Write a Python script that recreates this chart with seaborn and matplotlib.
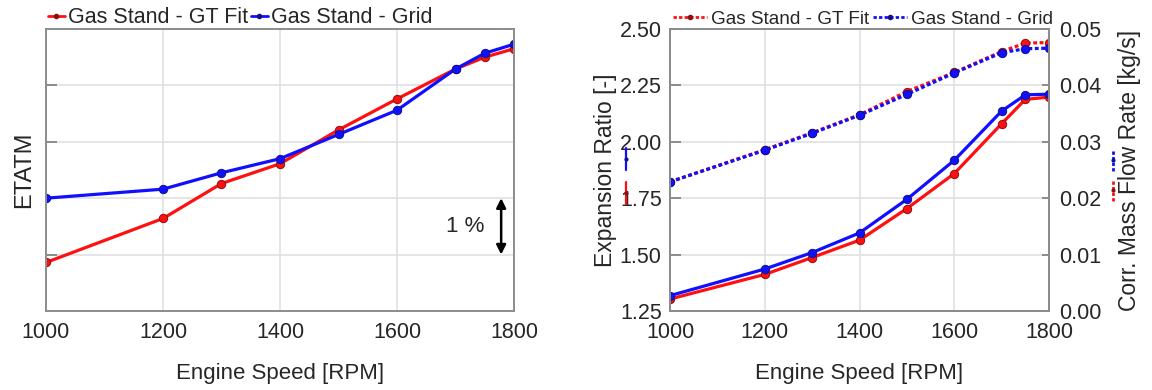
#set up modules
import numpy as np
import matplotlib
matplotlib.use("Agg")
import matplotlib.pyplot as plt
from matplotlib.lines import Line2D
import seaborn as sns

#data
rpm = [1000, 1200, 1300, 1400, 1500, 1600, 1700, 1750, 1800]

#left panel: turbine efficiency (relative, 1 grid step = 1 %)
etatm_fit = [60.86, 61.64, 62.26, 62.61, 63.21, 63.76, 64.29, 64.50, 64.65]
etatm_grid = [62.00, 62.16, 62.45, 62.70, 63.13, 63.56, 64.29, 64.57, 64.73]

#right panel: expansion ratio (left axis) and corr. mass flow (right axis)
er_fit = [1.303, 1.412, 1.487, 1.564, 1.704, 1.859, 2.080, 2.188, 2.198]
er_grid = [1.318, 1.436, 1.509, 1.596, 1.745, 1.918, 2.136, 2.208, 2.211]
mf_fit = [0.0229, 0.0286, 0.0316, 0.0348, 0.0389, 0.0423, 0.0460, 0.0475, 0.0476]
mf_grid = [0.0229, 0.0285, 0.0315, 0.0347, 0.0384, 0.0422, 0.0458, 0.0465, 0.0466]

labels = ["Gas Stand - GT Fit", "Gas Stand - Grid"]
red = "#ff1010"
blue = "#1010ff"
red_edge = "#8a1010"
blue_edge = "#10108a"
dots = (0, (1.2, 0.8))

sns.set_style("whitegrid")
plt.rcParams["font.family"] = ["Liberation Sans", "DejaVu Sans"]
plt.rcParams["axes.edgecolor"] = "#8c8c8c"
plt.rcParams["axes.linewidth"] = 1.4
plt.rcParams["grid.color"] = "#e0e0e0"
plt.rcParams["grid.linewidth"] = 1.2

fig = plt.figure(figsize=(11.52, 3.9), dpi=100)
ax1 = fig.add_axes([0.0399, 0.2026, 0.4063, 0.7231])
ax2 = fig.add_axes([0.5816, 0.2026, 0.329, 0.7231])
ax3 = ax2.twinx()

def draw(ax, y, col, edge, ls="-"):
    sns.lineplot(x=rpm, y=y, ax=ax, color=col, linewidth=2.3, linestyle=ls,
                 marker="o", markersize=6, markerfacecolor=col,
                 markeredgecolor=edge, markeredgewidth=0.7,
                 sort=False, errorbar=None, legend=False)

#left panel
draw(ax1, etatm_fit, red, red_edge)
draw(ax1, etatm_grid, blue, blue_edge)
ax1.set_xlim(1000, 1800)
ax1.set_ylim(60, 65)
ax1.set_xticks([1000, 1200, 1400, 1600, 1800])
ax1.set_yticks([61, 62, 63, 64])
ax1.set_yticklabels([])
ax1.tick_params(axis="x", labelsize=15.5, length=0, pad=8)
ax1.tick_params(axis="y", direction="in", length=8, width=1.4,
                color="#8c8c8c", left=True)
ax1.set_xlabel("Engine Speed [RPM]", fontsize=16)
ax1.xaxis.set_label_coords(0.5, -0.185)
ax1.set_ylabel("ETATM", fontsize=17)
ax1.yaxis.set_label_coords(-0.024, 0.5)
ax1.annotate("", xy=(1778, 62.0), xytext=(1778, 61.0),
             arrowprops=dict(arrowstyle="<|-|>", color="black", lw=1.8,
                             mutation_scale=14, shrinkA=0, shrinkB=0))
ax1.text(1716, 61.5, "1 %", fontsize=16, ha="center", va="center")

h1 = [Line2D([], [], color=c, lw=2, marker="o", markersize=3,
             markerfacecolor=e, markeredgecolor=e)
      for c, e in [(red, red_edge), (blue, blue_edge)]]
ax1.legend(h1, labels, loc="center left", bbox_to_anchor=(0.004, 1.04), ncol=2,
           frameon=False, fontsize=15.5, handlelength=0.8, handletextpad=0.15,
           columnspacing=0.1, borderaxespad=0, borderpad=0)

#right panel
draw(ax2, er_fit, red, red_edge)
draw(ax2, er_grid, blue, blue_edge)
draw(ax3, mf_fit, red, red_edge, ls=dots)
draw(ax3, mf_grid, blue, blue_edge, ls=dots)
ax2.set_xlim(1000, 1800)
ax2.set_ylim(1.25, 2.5)
ax2.set_yticks([1.25, 1.5, 1.75, 2.0, 2.25, 2.5])
ax2.set_yticklabels(["%.2f" % v for v in ax2.get_yticks()])
ax3.set_ylim(0, 0.05)
ax3.set_yticks([0, 0.01, 0.02, 0.03, 0.04, 0.05])
ax3.set_yticklabels(["%.2f" % v for v in ax3.get_yticks()])
ax3.grid(False)
ax2.set_xticks([1000, 1200, 1400, 1600, 1800])
ax2.tick_params(axis="x", labelsize=15.5, length=0, pad=8)
ax2.tick_params(axis="y", labelsize=15.5, direction="in", length=8, width=1.4,
                color="#8c8c8c", left=True, pad=6)
ax3.tick_params(axis="y", labelsize=15.5, direction="in", length=5, width=1.4,
                color="#8c8c8c", right=True, pad=7)
ax2.set_xlabel("Engine Speed [RPM]", fontsize=16)
ax2.xaxis.set_label_coords(0.5, -0.185)
ax2.set_ylabel("Expansion Ratio [-]", fontsize=16.5)
ax2.yaxis.set_label_coords(-0.14, 0.5)
ax3.set_ylabel("Corr. Mass Flow Rate [kg/s]", fontsize=16.5)
ax3.yaxis.set_label_coords(1.182, 0.5)
for s in ax3.spines.values():
    s.set_color("#8c8c8c")

#small series keys next to the axis labels
for yy, c, e in [(0.539, blue, blue_edge), (0.418, red, red_edge)]:
    ax2.add_line(Line2D([-0.117, -0.117], [yy - 0.04, yy + 0.04],
                        transform=ax2.transAxes, color=c, lw=1.6, clip_on=False))
    ax2.add_line(Line2D([-0.117], [yy], transform=ax2.transAxes, color=e,
                        marker="o", markersize=2, clip_on=False))
for yy, c, e in [(0.535, blue, blue_edge), (0.429, red, red_edge)]:
    ax3.add_line(Line2D([1.169, 1.169], [yy - 0.04, yy + 0.04],
                        transform=ax3.transAxes, color=c, lw=2, ls=dots, clip_on=False))
    ax3.add_line(Line2D([1.169], [yy], transform=ax3.transAxes, color=e,
                        marker="o", markersize=2, clip_on=False))

h2 = [Line2D([], [], color=c, lw=2, ls=dots, marker="o", markersize=3,
             markerfacecolor=e, markeredgecolor=e)
      for c, e in [(red, red_edge), (blue, blue_edge)]]
ax2.legend(h2, labels, loc="center left", bbox_to_anchor=(0.008, 1.035), ncol=2,
           frameon=False, fontsize=13.7, handlelength=1.8, handletextpad=0.2,
           columnspacing=0.2, borderaxespad=0, borderpad=0)

plt.savefig("out.png", dpi=100)
